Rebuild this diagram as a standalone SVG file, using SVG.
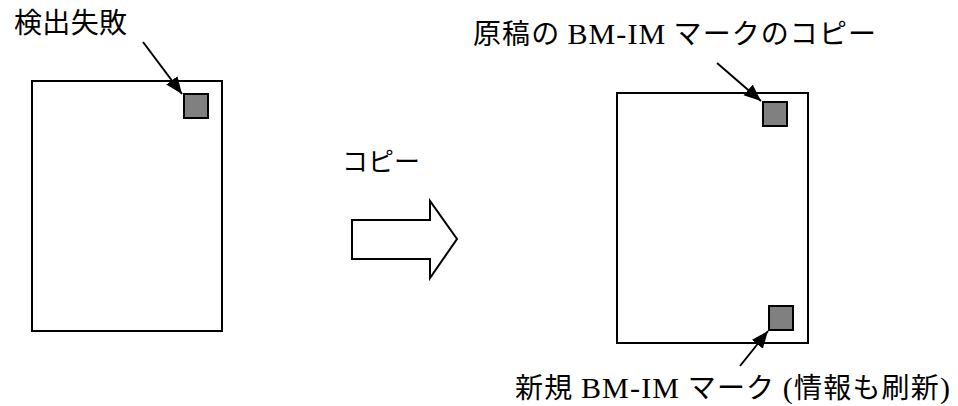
<svg xmlns="http://www.w3.org/2000/svg" width="958" height="406" viewBox="0 0 958 406">
<style>
.page{fill:#fff;stroke:#000;stroke-width:2}
.mark{fill:#808080;stroke:#000;stroke-width:2}
.lead{stroke:#000;stroke-width:2;fill:none}
.sans{font-family:"Noto Sans CJK JP","Noto Sans",sans-serif;fill:#000}
.serif{font-family:"Noto Sans CJK JP",serif;fill:#000;font-size:28px}
.lat{font-family:"Liberation Serif",serif;font-size:30px}
</style>
<defs>
<marker id="ah" markerUnits="userSpaceOnUse" markerWidth="20" markerHeight="16" refX="17" refY="7" orient="auto">
<polygon points="0,0 17,7 0,14" fill="#000"/>
</marker>
</defs>
<rect width="958" height="406" fill="#fff"/>
<g id="original">
<rect class="page" x="32" y="81" width="190" height="250"/>
<rect class="mark" x="184" y="94" width="24" height="24"/>
</g>
<g id="copy">
<rect class="page" x="617" y="93" width="191" height="250"/>
<rect class="mark" x="763" y="102" width="24" height="24"/>
<rect class="mark" x="769" y="306" width="24" height="24"/>
</g>
<g id="copy-arrow">
<polygon points="352,220 430,220 430,201 457,239 430,278 430,259 352,259" fill="#fff" stroke="#000" stroke-width="2"/>
<text class="sans" x="342" y="171" font-size="26" textLength="78" lengthAdjust="spacing">コピー</text>
</g>
<g id="labels">
<text class="sans" x="14" y="33" font-size="28" textLength="113" lengthAdjust="spacing">検出失敗</text>
<text class="serif" x="473" y="44" textLength="403" lengthAdjust="spacing">原稿の <tspan class="lat">BM-IM</tspan> マークのコピー</text>
<text class="serif" x="515" y="398" textLength="435" lengthAdjust="spacing">新規 <tspan class="lat">BM-IM</tspan> マーク <tspan class="lat">(</tspan>情報も刷新<tspan class="lat">)</tspan></text>
</g>
<g id="connectors">
<line class="lead" x1="143" y1="42" x2="182" y2="94" marker-end="url(#ah)"/>
<line class="lead" x1="717" y1="63" x2="761" y2="101" marker-end="url(#ah)"/>
<line class="lead" x1="740" y1="366" x2="768" y2="331" marker-end="url(#ah)"/>
</g>
</svg>
